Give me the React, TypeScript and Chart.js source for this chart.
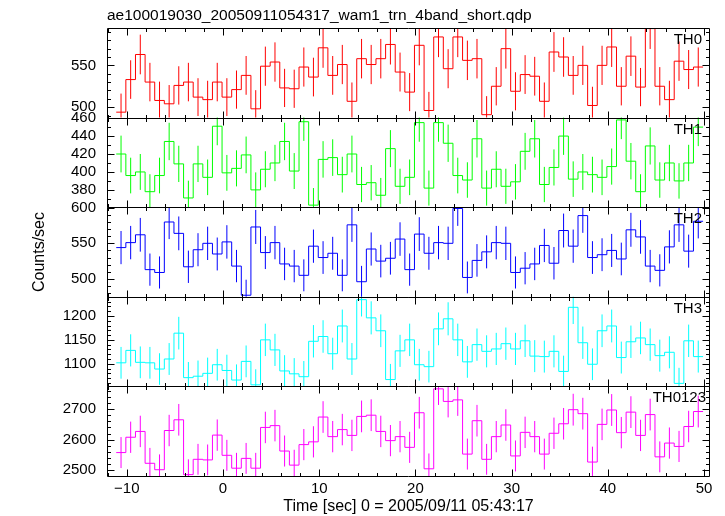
import React, { useEffect, useRef } from "react";
import { Chart, registerables } from "chart.js";

Chart.register(...registerables);

const TITLE = "ae100019030_20050911054317_wam1_trn_4band_short.qdp";
const X_LABEL = "Time [sec] 0 = 2005/09/11 05:43:17";
const Y_LABEL = "Counts/sec";

const BIN_START = -11.1;
const BIN_WIDTH = 1;
const X_MIN = -12.06;
const X_MAX = 50.62;
const X_TICKS = [-10, 0, 10, 20, 30, 40, 50];

const PANEL_NAMES = ["TH0", "TH1", "TH2", "TH3", "TH0123"];
const PANEL_COLORS = ["#ff0000", "#00ff00", "#0000ff", "#00ffff", "#ff00ff"];

const TH0 = [494, 533, 563, 530, 508, 504, 526, 530, 512, 509, 530, 512, 521, 538, 498, 549, 554, 523, 522, 548, 536, 571, 538, 551, 507, 558, 551, 558, 575, 542, 518, 574, 496, 584, 546, 584, 556, 558, 491, 525, 570, 519, 539, 537, 507, 566, 560, 538, 550, 502, 550, 572, 525, 561, 524, 594, 525, 509, 555, 545, 548];
const TH1 = [420, 396, 400, 378, 396, 434, 409, 371, 409, 394, 451, 399, 404, 419, 380, 403, 410, 434, 401, 456, 363, 414, 416, 397, 420, 386, 388, 374, 426, 384, 394, 455, 382, 455, 432, 396, 391, 437, 382, 403, 384, 389, 423, 437, 386, 405, 440, 392, 400, 397, 394, 406, 458, 412, 378, 429, 391, 410, 390, 410, 450];
const TH2 = [544, 551, 562, 513, 509, 580, 564, 517, 541, 550, 535, 552, 518, 477, 573, 537, 551, 521, 518, 505, 546, 530, 536, 505, 576, 496, 542, 525, 529, 556, 513, 563, 536, 551, 550, 599, 502, 526, 538, 551, 550, 509, 515, 521, 547, 522, 568, 546, 589, 530, 534, 540, 528, 569, 559, 518, 512, 545, 576, 539, 581];
const TH3 = [1102, 1128, 1103, 1102, 1089, 1110, 1164, 1071, 1074, 1080, 1098, 1086, 1066, 1105, 1056, 1150, 1129, 1085, 1079, 1073, 1147, 1157, 1121, 1179, 1110, 1234, 1196, 1169, 1067, 1127, 1150, 1098, 1094, 1173, 1194, 1150, 1104, 1140, 1126, 1131, 1142, 1131, 1148, 1116, 1115, 1126, 1084, 1218, 1144, 1099, 1169, 1179, 1113, 1146, 1154, 1140, 1117, 1124, 1059, 1148, 1115];
const TH0123 = [2558, 2608, 2627, 2523, 2502, 2630, 2665, 2486, 2536, 2534, 2615, 2549, 2507, 2539, 2507, 2640, 2646, 2563, 2517, 2584, 2593, 2674, 2610, 2633, 2614, 2676, 2680, 2627, 2597, 2610, 2575, 2688, 2505, 2766, 2725, 2730, 2553, 2662, 2536, 2610, 2648, 2547, 2624, 2610, 2553, 2621, 2652, 2698, 2685, 2527, 2650, 2697, 2623, 2690, 2614, 2682, 2544, 2589, 2578, 2643, 2692];

const Y_MIN = [487.5, 360.7, 474.8, 1052.7, 2481.5];
const Y_MAX = [594.7, 460.6, 600.8, 1240, 2774];
const Y_LABELS_0 = [500, 550];
const Y_LABELS_1 = [380, 400, 420, 440, 460];
const Y_LABELS_2 = [500, 550, 600];
const Y_LABELS_3 = [1100, 1150, 1200];
const Y_LABELS_4 = [2500, 2600, 2700];
const Y_MAJOR_STEP = [50, 20, 50, 50, 100];
const Y_MINOR_STEP = [10, 10, 10, 10, 20];

const FONT = "'Liberation Sans', Arial, Helvetica, sans-serif";

function fmtX(v: number): string {
  return v < 0 ? "\u2212" + String(Math.abs(v)) : String(v);
}

export default function App() {
  const ref = useRef<HTMLCanvasElement>(null);

  useEffect(() => {
    const canvas = ref.current;
    if (!canvas) return;
    const series = [TH0, TH1, TH2, TH3, TH0123];
    const yLabels = [Y_LABELS_0, Y_LABELS_1, Y_LABELS_2, Y_LABELS_3, Y_LABELS_4];

    const datasets: any[] = [];
    series.forEach((vals, p) => {
      const steps: any[] = vals.map((v, k) => ({ x: BIN_START + k * BIN_WIDTH, y: v }));
      steps.push({ x: BIN_START + vals.length * BIN_WIDTH, y: vals[vals.length - 1] });
      const errs: any[] = [];
      vals.forEach((v, k) => {
        const c = BIN_START + (k + 0.5) * BIN_WIDTH;
        const e = Math.sqrt(v);
        errs.push({ x: c, y: v - e }, { x: c, y: v + e }, { x: c, y: null });
      });
      datasets.push({
        data: steps,
        yAxisID: "y" + p,
        borderColor: PANEL_COLORS[p],
        borderWidth: 1,
        pointRadius: 0,
        stepped: true,
        fill: false,
        tension: 0,
      });
      datasets.push({
        data: errs,
        yAxisID: "y" + p,
        borderColor: PANEL_COLORS[p],
        borderWidth: 1,
        pointRadius: 0,
        spanGaps: false,
        fill: false,
        tension: 0,
      });
    });

    const scales: any = {
      x: {
        type: "linear",
        position: "bottom",
        min: X_MIN,
        max: X_MAX,
        grid: { display: false, drawTicks: false },
        border: { display: false },
        afterBuildTicks: (s: any) => {
          s.ticks = X_TICKS.map((v) => ({ value: v }));
        },
        afterFit: (s: any) => {
          s.height = 40;
        },
        ticks: {
          font: { family: FONT, size: 15 },
          color: "#000",
          padding: 4,
          maxRotation: 0,
          autoSkip: false,
          callback: (v: any) => fmtX(Number(v)),
        },
      },
    };
    for (let p = 4; p >= 0; p--) {
      const labels = yLabels[p];
      scales["y" + p] = {
        type: "linear",
        position: "left",
        stack: "panels",
        stackWeight: 1,
        min: Y_MIN[p],
        max: Y_MAX[p],
        grid: { display: false, drawTicks: false },
        border: { display: false },
        afterBuildTicks: (s: any) => {
          s.ticks = labels.map((v) => ({ value: v }));
        },
        afterFit: (s: any) => {
          s.width = 107;
        },
        ticks: {
          font: { family: FONT, size: 15 },
          color: "#000",
          padding: 11,
          autoSkip: false,
          callback: (v: any) => String(v),
        },
      };
    }

    const framePlugin = {
      id: "qdpFrame",
      afterDatasetsDraw(chart: any) {
        const { ctx, chartArea: ca } = chart;
        const xs = chart.scales.x;
        const L = Math.round(ca.left) + 0.5;
        const R = Math.round(ca.right) - 0.5;
        ctx.save();
        ctx.strokeStyle = "#000";
        ctx.lineWidth = 1;
        for (let p = 0; p < 5; p++) {
          const ys = chart.scales["y" + p];
          const T = Math.round(ys.top) + 0.5;
          const B = Math.round(ys.bottom) + 0.5;
          ctx.beginPath();
          ctx.rect(L, T, R - L, B - T);
          const i0 = Math.ceil(X_MIN / 2);
          const i1 = Math.floor(X_MAX / 2);
          for (let i = i0; i <= i1; i++) {
            const t = i * 2;
            const px = Math.round(xs.getPixelForValue(t)) + 0.5;
            const len = t % 10 === 0 ? 7 : 3.5;
            ctx.moveTo(px, B);
            ctx.lineTo(px, B - len);
            ctx.moveTo(px, T);
            ctx.lineTo(px, T + len);
          }
          const st = Y_MINOR_STEP[p];
          const j0 = Math.ceil(Y_MIN[p] / st);
          const j1 = Math.floor(Y_MAX[p] / st);
          for (let j = j0; j <= j1; j++) {
            const v = j * st;
            const py = Math.round(ys.getPixelForValue(v)) + 0.5;
            const len = v % Y_MAJOR_STEP[p] === 0 ? 7 : 3.5;
            ctx.moveTo(L, py);
            ctx.lineTo(L + len, py);
            ctx.moveTo(R, py);
            ctx.lineTo(R - len, py);
          }
          ctx.stroke();
          ctx.fillStyle = "#000";
          ctx.font = "15px " + FONT;
          ctx.textAlign = "right";
          ctx.textBaseline = "alphabetic";
          ctx.fillText(PANEL_NAMES[p], ca.right - (p === 4 ? 4 : 8), ys.top + 16);
        }
        ctx.font = "15.5px " + FONT;
        ctx.textAlign = "left";
        ctx.textBaseline = "alphabetic";
        ctx.fillText(TITLE, ca.left, 20);
        ctx.font = "16px " + FONT;
        ctx.textAlign = "center";
        ctx.fillText(X_LABEL, (ca.left + ca.right) / 2, 511);
        ctx.translate(44, (ca.top + ca.bottom) / 2);
        ctx.rotate(-Math.PI / 2);
        ctx.fillText(Y_LABEL, 0, 0);
        ctx.restore();
      },
    };

    const chart = new Chart(canvas, {
      type: "line",
      data: { datasets },
      options: {
        animation: false,
        responsive: false,
        devicePixelRatio: 1,
        layout: { padding: { top: 28, right: 15, left: 0, bottom: 0 } },
        plugins: { legend: { display: false }, tooltip: { enabled: false }, title: { display: false } },
        scales,
      },
      plugins: [framePlugin],
    } as any);

    return () => {
      chart.destroy();
    };
  }, []);

  return (
    <div style={{ position: "fixed", left: 0, top: 0, width: 725, height: 516, background: "#fff" }}>
      <canvas ref={ref} width={725} height={516} style={{ display: "block" }} />
    </div>
  );
}
